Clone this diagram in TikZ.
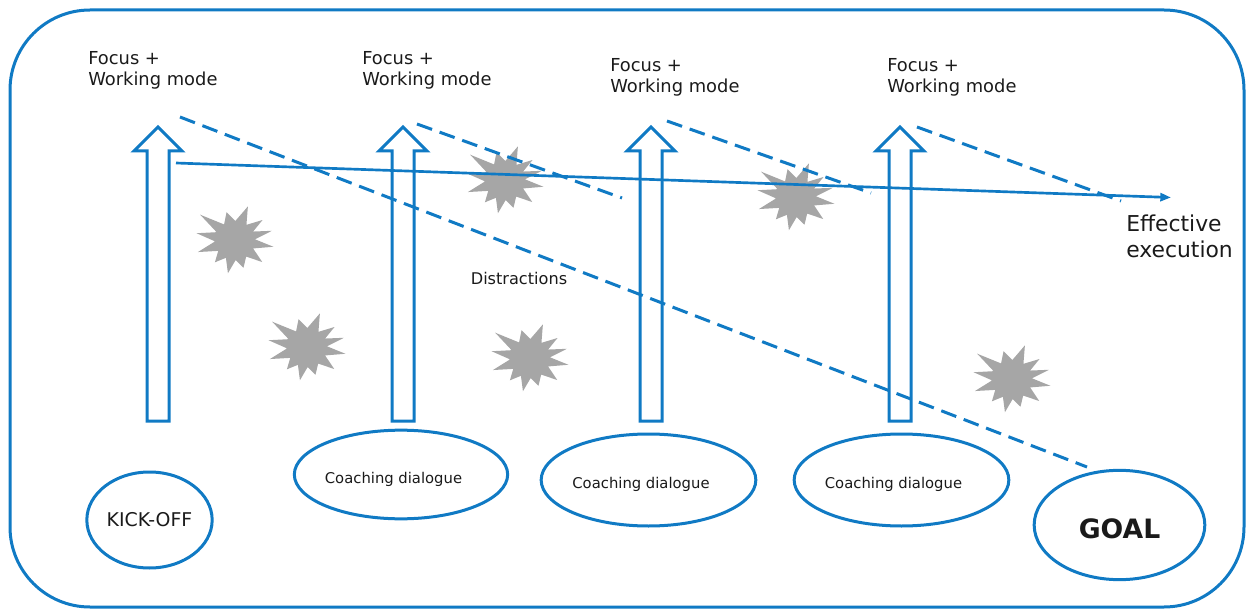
\documentclass[tikz,border=0pt]{standalone}
\usepackage{fontspec}
\setmainfont{DejaVu Sans}
\usetikzlibrary{shapes.geometric,arrows.meta}
\definecolor{lineblue}{RGB}{16,122,196}
\definecolor{burstgray}{RGB}{166,166,166}
\definecolor{ink}{RGB}{26,26,26}

\begin{document}
\begin{tikzpicture}[x=0.75pt,y=-0.75pt,
  outline/.style={draw=lineblue, line width=2.25pt},
  oval/.style={ellipse, outline, inner sep=0pt, text=ink},
  focustext/.style={anchor=north west, inner sep=0pt, align=left, text=ink,
    font=\fontsize{13.4}{15.75}\selectfont},
  coachtext/.style={anchor=base, inner sep=0pt, text=ink,
    font=\fontsize{11.1}{13}\selectfont},
  trail/.style={draw=lineblue, line width=2.25pt, dash pattern=on 12pt off 6pt},
  course/.style={draw=lineblue, line width=2pt,
    -{Triangle[length=8pt,width=6pt]}},
  blockarrow/.pic={
    \draw[outline, line join=miter]
      (-11,0) -- (-11,-270) -- (-24,-270) -- (0,-294) -- (24,-270)
      -- (11,-270) -- (11,0) -- cycle;},
  burst/.pic={
    \fill[burstgray]
      (-69:36) -- (-53:19) -- (-36:34) -- (-25:20) -- (-14:38) -- (-2:20)
      -- (10:39) -- (25:20) -- (39:35) -- (56:20) -- (73:29) -- (88:20)
      -- (102:34) -- (117:20) -- (132:30) -- (147:20) -- (162:39)
      -- (176:20) -- (190:39) -- (203:20) -- (216:43) -- (235:19)
      -- (253:29) -- (271:19) -- cycle;}
]
\useasboundingbox (0,0) rectangle (1247,610);

% outer panel
\draw[outline, rounded corners=60pt] (10,10) rectangle (1244,607);

% distractions
\pic at (235,240) {burst};
\pic at (307,347) {burst};
\pic at (505,180) {burst};
\pic at (530,358) {burst};
\pic at (796,197) {burst};
\pic at (1012,379) {burst};

% upward block arrows
\pic at (158,421) {blockarrow};
\pic at (403,421) {blockarrow};
\pic at (651,421) {blockarrow};
\pic at (900,421) {blockarrow};

% stages
\node[oval, minimum width=94pt, minimum height=72pt,
  font=\fontsize{14.2}{16}\selectfont] (kick) at (149.5,520) {KICK-OFF};
\node[oval, minimum width=160pt, minimum height=66.5pt] (co1) at (401,474.5) {};
\node[oval, minimum width=161pt, minimum height=69pt] (co2) at (648.5,480) {};
\node[oval, minimum width=161pt, minimum height=69pt] (co3) at (901.5,480) {};
\node[oval, minimum width=128pt, minimum height=82pt] (goal) at (1119.5,525) {};

\node[coachtext] (co1text) at (393.5,483) {Coaching dialogue};
\node[coachtext] (co2text) at (641,488) {Coaching dialogue};
\node[coachtext] (co3text) at (893.5,488) {Coaching dialogue};
\node[anchor=base, inner sep=0pt, text=ink,
  font=\fontsize{20}{24}\bfseries\selectfont] (goaltext) at (1119.5,538) {GOAL};

% labels above the arrows
\node[focustext] (f1) at (88,51.4) {Focus +\\Working mode};
\node[focustext] (f2) at (362,51.4) {Focus +\\Working mode};
\node[focustext] (f3) at (610,58.4) {Focus +\\Working mode};
\node[focustext] (f4) at (887,58.4) {Focus +\\Working mode};

\node[anchor=base, inner sep=0pt, text=ink, font=\fontsize{12.1}{14}\selectfont]
  (distr) at (519,284) {Distractions};
\node[anchor=north west, inner sep=0pt, align=left, text=ink,
  font=\fontsize{16.4}{19.5}\selectfont] (exec) at (1126,214.5)
  {Effective\\execution};

% end points of the lines
\coordinate (runstart) at (176,163);
\coordinate (runend) at (1171,197.5);
\coordinate (d0a) at (180,117);
\coordinate (d0b) at (1087,467);
\coordinate (d1a) at (417,124);
\coordinate (d1b) at (622,198);
\coordinate (d2a) at (667,121);
\coordinate (d2b) at (871,193);
\coordinate (d3a) at (917,127);
\coordinate (d3b) at (1121,201);

% drifting paths
\draw[trail] (d0a) -- (d0b);
\draw[trail] (d1a) -- (d1b);
\draw[trail] (d2a) -- (d2b);
\draw[trail] (d3a) -- (d3b);

% the course towards effective execution
\draw[course] (runstart) -- (runend);
\end{tikzpicture}
\end{document}
